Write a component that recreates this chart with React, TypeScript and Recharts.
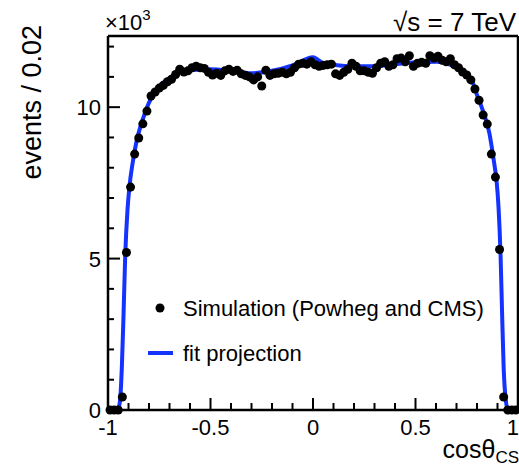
import { ComposedChart, Line, Scatter, XAxis, YAxis } from "recharts";

// bin centres (width 0.02) and simulated event counts, in units of 10^3
const binCentres = [
  -0.99, -0.97, -0.95, -0.93, -0.91, -0.89, -0.87, -0.85, -0.83, -0.81,
  -0.79, -0.77, -0.75, -0.73, -0.71, -0.69, -0.67, -0.65, -0.63, -0.61,
  -0.59, -0.57, -0.55, -0.53, -0.51, -0.49, -0.47, -0.45, -0.43, -0.41,
  -0.39, -0.37, -0.35, -0.33, -0.31, -0.29, -0.27, -0.25, -0.23, -0.21,
  -0.19, -0.17, -0.15, -0.13, -0.11, -0.09, -0.07, -0.05, -0.03, -0.01,
  0.01, 0.03, 0.05, 0.07, 0.09, 0.11, 0.13, 0.15, 0.17, 0.19,
  0.21, 0.23, 0.25, 0.27, 0.29, 0.31, 0.33, 0.35, 0.37, 0.39,
  0.41, 0.43, 0.45, 0.47, 0.49, 0.51, 0.53, 0.55, 0.57, 0.59,
  0.61, 0.63, 0.65, 0.67, 0.69, 0.71, 0.73, 0.75, 0.77, 0.79,
  0.81, 0.83, 0.85, 0.87, 0.89, 0.91, 0.93, 0.95, 0.97, 0.99,
];

const simEvents = [
  0, 0, 0, 0.43, 5.2, 7.36, 8.45, 8.98, 9.45, 9.87,
  10.37, 10.5, 10.63, 10.72, 10.84, 10.92, 11.08, 11.25, 11.16, 11.2,
  11.3, 11.35, 11.3, 11.28, 11.15, 11.06, 11.12, 11.05, 11.2, 11.25,
  11.18, 11.22, 11.1, 11.05, 11.0, 10.9, 11.0, 10.7, 11.22, 11.05,
  11.1, 11.12, 11.15, 11.1, 11.15, 11.3, 11.42, 11.45, 11.42, 11.5,
  11.4, 11.35, 11.38, 11.4, 11.42, 11.1, 11.05, 11.15, 11.25, 11.45,
  11.35, 11.2, 11.2, 11.15, 11.12, 11.3, 11.45, 11.5, 11.35, 11.4,
  11.6, 11.62, 11.5, 11.7, 11.35, 11.45, 11.48, 11.45, 11.7, 11.62,
  11.68, 11.55, 11.5, 11.6, 11.4, 11.3, 11.16, 11.06, 10.9, 10.6,
  10.23, 9.74, 9.44, 8.45, 7.69, 5.3, 0.43, 0, 0, 0,
];

// fit projection
const fitX = [
  -1, -0.958, -0.948, -0.94, -0.932, -0.924, -0.916, -0.905, -0.895, -0.88,
  -0.86, -0.84, -0.82, -0.8, -0.77, -0.74, -0.7, -0.65, -0.6, -0.5,
  -0.4, -0.3, -0.2, -0.1, 0, 0.05, 0.1, 0.2, 0.3, 0.4,
  0.5, 0.6, 0.65, 0.7, 0.75, 0.78, 0.8, 0.82, 0.84, 0.86,
  0.875, 0.885, 0.895, 0.905, 0.915, 0.922, 0.93, 0.94, 0.951, 1,
];
const fitY = [
  0, 0, 0.08, 0.4, 1.5, 3.2, 5.1, 6.6, 7.4, 8.15,
  8.9, 9.4, 9.8, 10.15, 10.5, 10.75, 10.97, 11.15, 11.22, 11.25,
  11.2, 11.12, 11.2, 11.38, 11.65, 11.45, 11.4, 11.35, 11.35, 11.42,
  11.48, 11.5, 11.45, 11.3, 11.05, 10.8, 10.4, 10.05, 9.65, 9.15,
  8.55, 8.1, 7.6, 6.7, 5.1, 3.3, 1.4, 0.35, 0, 0,
];

const xTicks = [
  -1, -0.9, -0.8, -0.7, -0.6, -0.5, -0.4, -0.3, -0.2, -0.1, 0,
  0.1, 0.2, 0.3, 0.4, 0.5, 0.6, 0.7, 0.8, 0.9, 1,
];
const yTicks = [0, 1, 2, 3, 4, 5, 6, 7, 8, 9, 10, 11, 12];
const xMajor = [-1, -0.5, 0, 0.5, 1];
const yMajor = [0, 5, 10];

const points = binCentres.map((x, i) => ({ x, y: simEvents[i] }));
const fit = fitX.map((x, i) => ({ x, y: fitY[i] }));

const FONT = '"Liberation Sans", Arial, Helvetica, sans-serif';
const BLUE = "#1433ff";

const isMajor = (list: number[], v: number) => list.some((m) => Math.abs(m - v) < 1e-6);

const fmt = (v: number) => (Math.abs(v) < 1e-9 ? "0" : String(v));

function BottomTick({ x, y, payload }: any) {
  const major = isMajor(xMajor, payload.value);
  // the last label sits at the window edge, keep it inside
  const atEdge = payload.value >= 1;
  return (
    <g>
      <line x1={x} x2={x} y1={y} y2={y - (major ? 12 : 7)} stroke="#000" strokeWidth={2} />
      {major && (
        <text
          x={atEdge ? x + 1 : x}
          y={y + 25}
          textAnchor={atEdge ? "end" : "middle"}
          fontSize={22}
          fontFamily={FONT}
          fill="#000"
        >
          {fmt(payload.value)}
        </text>
      )}
    </g>
  );
}

function TopTick({ x, y, payload }: any) {
  const major = isMajor(xMajor, payload.value);
  return <line x1={x} x2={x} y1={y} y2={y + (major ? 12 : 6)} stroke="#000" strokeWidth={2} />;
}

function LeftTick({ x, y, payload }: any) {
  const major = isMajor(yMajor, payload.value);
  return (
    <g>
      <line x1={x} x2={x + (major ? 12 : 6)} y1={y} y2={y} stroke="#000" strokeWidth={2} />
      {major && (
        <text x={x - 7} y={y + 8} textAnchor="end" fontSize={22} fontFamily={FONT} fill="#000">
          {payload.value}
        </text>
      )}
    </g>
  );
}

function RightTick({ x, y, payload }: any) {
  const major = isMajor(yMajor, payload.value);
  return <line x1={x} x2={x - (major ? 12 : 6)} y1={y} y2={y} stroke="#000" strokeWidth={2} />;
}

const axisStroke = { stroke: "#000", strokeWidth: 2.5 };

export default function App() {
  return (
    <div style={{ position: "absolute", left: 0, top: 0, width: 519, height: 466, background: "#fff" }}>
      <ComposedChart width={519} height={466} margin={{ top: 35, right: 0, bottom: 55, left: 107 }}>
        <XAxis
          dataKey="x"
          type="number"
          domain={[-1, 1]}
          ticks={xTicks}
          height={1}
          tickLine={false}
          tickSize={0}
          tickMargin={0}
          tick={BottomTick}
          axisLine={axisStroke}
          interval={0}
        />
        <XAxis
          xAxisId="top"
          orientation="top"
          dataKey="x"
          type="number"
          domain={[-1, 1]}
          ticks={xTicks}
          height={1}
          tickLine={false}
          tickSize={0}
          tickMargin={0}
          tick={TopTick}
          axisLine={axisStroke}
          interval={0}
        />
        <YAxis
          dataKey="y"
          type="number"
          domain={[0, 12.35]}
          ticks={yTicks}
          width={1}
          tickLine={false}
          tickSize={0}
          tickMargin={0}
          tick={LeftTick}
          axisLine={axisStroke}
          interval={0}
        />
        <YAxis
          yAxisId="right"
          orientation="right"
          dataKey="y"
          type="number"
          domain={[0, 12.35]}
          ticks={yTicks}
          width={1}
          tickLine={false}
          tickSize={0}
          tickMargin={0}
          tick={RightTick}
          axisLine={axisStroke}
          interval={0}
        />
        <Line
          data={fit}
          dataKey="y"
          type="monotone"
          stroke={BLUE}
          strokeWidth={4}
          dot={false}
          isAnimationActive={false}
        />
        <Scatter data={points} dataKey="y" fill="#000" isAnimationActive={false} />
      </ComposedChart>

      <svg
        width={519}
        height={466}
        style={{ position: "absolute", left: 0, top: 0, pointerEvents: "none" }}
        fontFamily={FONT}
      >
        <text x={105} y={30} fontSize={22} fill="#000">
          ×10
          <tspan fontSize={15} dy={-10}>
            3
          </tspan>
        </text>
        <text x={516} y={31} textAnchor="end" fontSize={26} fill="#000">
          √s = 7 TeV
        </text>
        <text
          transform="translate(41,25) rotate(-90)"
          textAnchor="end"
          fontSize={27}
          fill="#000"
        >
          events / 0.02
        </text>
        <text x={519} y={458} textAnchor="end" fontSize={25} fill="#000">
          cosθ
          <tspan fontSize={17} dy={5}>
            CS
          </tspan>
        </text>

        <circle cx={160} cy={308} r={4.5} fill="#000" />
        <text x={183} y={316} fontSize={22} fill="#000">
          Simulation (Powheg and CMS)
        </text>
        <line x1={148} x2={173} y1={353} y2={353} stroke={BLUE} strokeWidth={4} />
        <text x={183} y={361} fontSize={22} fill="#000">
          fit projection
        </text>
      </svg>
    </div>
  );
}
